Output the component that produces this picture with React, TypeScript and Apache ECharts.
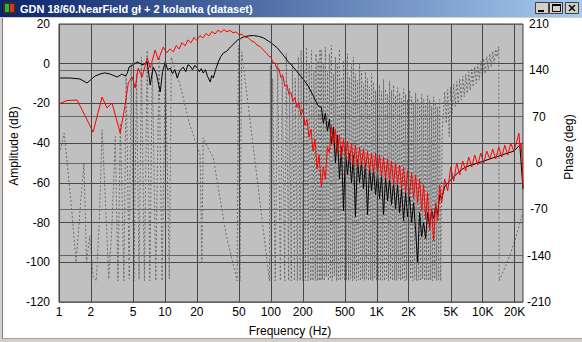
import { useEffect, useRef } from "react";
import * as echarts from "echarts";

const TITLE = "GDN 18/60.NearField gł + 2 kolanka (dataset)";
const X_TICKS = [1, 2, 5, 10, 20, 50, 100, 200, 500, 1000, 2000, 5000, 10000, 20000];
const X_LABELS = ["1", "2", "5", "10", "20", "50", "100", "200", "500", "1K", "2K", "5K", "10K", "20K"];

// black amplitude curve, 1 Hz .. 300 Hz  [Hz, dB]
const BLACK_LF = [
  [1, -7.2], [1.27, -7.2], [1.58, -7.7], [1.84, -9.7], [2.0, -8], [2.19, -6.2], [2.44, -5.2], [2.7, -4.6],
  [3.04, -5.2], [3.3, -6], [3.54, -6.7], [3.94, -5.2], [4.21, -6.2], [4.4, -5], [4.59, -1.7], [5.0, -0.6],
  [5.47, 0.9], [5.8, 0.2], [6.23, -0.6], [6.8, 0.9], [7.26, -10.7], [7.75, -1.7], [8.3, -5], [9.03, -14.2],
  [9.5, -4], [10.07, 0.9], [10.6, -3], [11.2, -2.2], [11.8, -5], [12.4, -3], [13.07, -7.2], [13.8, -3.5],
  [14.9, -1.7], [15.7, -4], [16.5, -0.5], [17.3, -1.2], [18.2, -3], [19.2, -0.8], [20.2, -2.2], [21.1, -4],
  [22, -2.5], [23, -4.7], [24.1, -3], [25.3, -6.5], [26.8, -9.2], [27.6, -6], [28.6, -7.2], [30.1, -3],
  [31.9, 0.9], [33.6, 3.5], [35.6, 5.4], [38.3, 6.3], [41.5, 8.4], [44.7, 10], [48.3, 11.9], [51.6, 12.6],
  [55.1, 13.5], [61, 14], [68.4, 14.2], [76, 13.8], [85.1, 13], [100, 10.6], [115, 8], [130, 4.5],
  [145, 1.2], [163, -1.7], [190, -6], [222, -10.7], [248, -15.5], [276, -20.8],
];

// shared frequency steps of the noisy region, 300 Hz .. 4.1 kHz
const FREQ_HF = [
  300, 313, 327, 342, 357, 373, 390, 407, 425, 444,
  464, 485, 506, 529, 552, 577, 602, 629, 657, 687,
  717, 749, 782, 817, 854, 892, 931, 973, 1016, 1061,
  1109, 1158, 1210, 1263, 1320, 1378, 1440, 1504, 1571, 1641,
  1714, 1790, 1870, 1953, 2040, 2131, 2226, 2325, 2429, 2537,
  2650, 2768, 2891, 3020, 3154, 3295, 3441, 3595, 3755, 3922,
  4097,
];
const BLACK_HF = [
  -22, -30, -25, -34, -28, -40, -32, -50, -36, -58,
  -42, -74, -44, -56, -45, -60, -46, -77, -48, -60,
  -49, -63, -50, -76, -52, -64, -53, -66, -55, -68,
  -56, -76, -57, -69, -58, -71, -60, -73, -61, -75,
  -63, -79, -65, -77, -67, -80, -70, -84, -100, -75,
  -87, -80, -88, -75, -82, -74, -78, -72, -76, -66,
  -68,
];
const RED_HF = [
  -62, -52, -58, -42, -45, -31, -41, -33, -45, -36,
  -47, -38, -48, -39, -50, -40, -51, -41, -52, -42,
  -51, -43, -53, -44, -54, -45, -55, -45, -56, -46,
  -57, -47, -58, -48, -59, -49, -61, -50, -61, -51,
  -63, -52, -65, -54, -66, -55, -68, -56, -70, -58,
  -74, -61, -78, -65, -84, -73, -89, -70, -79, -61,
  -70,
];
const BLACK_TAIL = [
  [4374, -62], [4669, -60], [5321, -57], [6063, -54], [6910, -52], [7874, -51], [8973, -50],
  [10226, -49], [11653, -48], [13280, -47], [15134, -46], [17247, -45], [19654, -44], [22398, -41], [24000, -63],
];

// red amplitude curve, 1 Hz .. 300 Hz
const RED_LF = [
  [1, -20.3], [1.19, -18.5], [1.48, -18.3], [1.69, -24.3], [2.1, -34.4], [2.55, -16.8], [2.84, -22.3],
  [3.17, -19.8], [3.78, -34.9], [4.21, -20.8], [4.51, -9.7], [4.9, -6.7], [5.24, -12.2], [5.59, -2.2],
  [6.09, -6.7], [6.8, 2.9], [7.26, -2.2], [8.09, 6.9], [8.66, 1.9], [9.64, 8.4], [10.4, 5.5], [11.2, 7.5],
  [12.0, 5.9], [12.8, 9.2], [13.6, 7.4], [14.5, 10.6], [15.5, 9.0], [16.5, 12.0], [17.6, 10.5], [18.8, 13.2],
  [20.0, 11.8], [21.4, 14.2], [22.8, 13.0], [24.4, 15.2], [26.0, 14.0], [27.8, 16.2], [29.7, 15.0],
  [31.7, 16.9], [33.8, 15.8], [36.1, 17.1], [38.5, 16.1], [41.1, 16.8], [43.9, 15.6], [46.9, 16.0],
  [50.0, 14.7], [53.4, 14.8], [57.0, 13.4], [60.9, 13.2], [65.0, 11.6], [69.4, 11.0], [74.1, 9.4],
  [79.1, 8.6], [84.5, 7.0], [90.2, 5.6], [96.3, 3.6],
  [100, 3.5], [104.5, 0.5], [109.1, 0.5], [114, -2.5], [119.1, -2.5], [124.4, -7], [129.9, -6], [135.7, -11.5],
  [141.8, -10.5], [148.1, -15.5], [154.7, -14.5], [161.6, -19], [168.8, -17], [176.3, -22], [184.1, -19.5],
  [192.3, -26], [200.9, -23], [209.9, -31], [219.2, -28], [229, -37], [239.2, -33], [249.8, -44],
  [261, -38], [272.6, -53], [284.7, -46],
];
const RED_TAIL = [
  [4374, -58], [4669, -64], [4984, -52], [5321, -59], [5680, -50], [6063, -56], [6473, -49], [6910, -54],
  [7376, -47], [7874, -52], [8406, -46], [8973, -51], [9579, -45], [10226, -50], [10916, -44], [11653, -48],
  [12440, -43], [13280, -48], [14177, -42], [15134, -47], [16156, -41], [17247, -46], [18411, -40],
  [19654, -44], [20981, -39], [22000, -35], [22398, -42], [23000, -40], [23500, -47], [24000, -62],
];

// phase (deg), wrapped
const PHASE_LF = [
  [1.03, 20], [1.12, 45], [1.3, -60], [1.45, -150], [1.6, -60], [1.72, 0], [1.82, -150], [1.95, -110],
  [2.1, -172], [2.25, -178], [2.4, -90], [2.55, 50], [2.75, -60], [2.95, -175], [3.15, -100], [3.4, 40],
  [3.6, -178], [3.8, 60], [4.1, -178], [4.3, 135], [4.6, -175], [4.8, 150], [5.1, -178], [5.4, 135],
  [5.7, -176], [6.0, 160], [6.4, -178], [6.8, 170], [7.2, -178], [7.6, 150], [8.2, -178], [8.8, 160],
  [9.4, -178], [10.1, 155], [11, -175], [11.5, 160], [12.5, 140], [13.9, 118], [17, 60], [21.5, 12],
  [22.3, -150], [23, 38], [26, 20], [28.6, 8], [38, -110], [48, -178], [49.5, 178], [51, -178],
  [53, 168], [70, 10], [97, -178], [99, 148], [101, -178], [104, 128], [110, -178], [116, 150],
  [123, -178], [128, 135], [135, -178], [140, 165], [147, -178], [150, 113], [156, -178], [160, 150],
  [167, -178], [170, 128], [178, -178], [182, 160], [189, -178], [193, 170], [200, -178], [205, 140],
  [212, -178], [217, 175], [225, -178], [230, 150], [238, -178], [242, 170], [250, -178], [255, 140],
  [263, -178], [267, 165], [275, -178], [280, 155], [287, -178], [291, 172], [297, -178],
];
const PHASE_DENSE = [
  [300, 170], [307, -176], [313, 150], [320, -178], [327, 175], [334, -172], [342, 140], [350, -178],
  [357, 165], [365, -175], [373, 178], [381, -178], [390, 135], [398, -170], [407, 160], [416, -178],
  [425, 150], [434, -176], [444, 172], [454, -178], [464, 128], [474, -174], [485, 155], [496, -178],
  [506, 145], [517, -177], [529, 165], [541, -178], [552, 130], [564, -175], [577, 150], [590, -178],
  [602, 160], [615, -176], [629, 135], [643, -178], [657, 125], [672, -177], [687, 150], [702, -178],
  [717, 140], [733, -175], [749, 120], [765, -178], [782, 138], [799, -176], [817, 128], [835, -178],
  [854, 115], [873, -177], [892, 135], [912, -178], [931, 122], [952, -175], [973, 110], [994, -178],
  [1016, 130], [1038, -176], [1061, 118], [1084, -178], [1109, 108], [1133, -177], [1158, 126], [1183, -178],
  [1210, 112], [1237, -175], [1263, 104], [1291, -178], [1320, 124], [1349, -176], [1378, 110], [1408, -178],
  [1440, 118], [1472, -177], [1504, 102], [1537, -178], [1571, 114], [1606, -175], [1641, 106], [1677, -178],
  [1714, 98], [1752, -176], [1790, 112], [1829, -178], [1870, 104], [1911, -177], [1953, 96], [1996, -178],
  [2040, 110], [2085, -175], [2131, 100], [2178, -178], [2226, 92], [2275, -176], [2325, 106], [2376, -178],
  [2429, 98], [2482, -177], [2537, 90], [2593, -178], [2650, 104], [2708, -175], [2768, 96], [2829, -178],
  [2891, 88], [2955, -176], [3020, 102], [3086, -178], [3154, 95], [3223, -177], [3295, 86], [3368, -178],
  [3441, 100], [3517, -175], [3595, 92], [3674, -178], [3755, 85], [3838, -176], [3922, 96], [4008, -178],
];
const PHASE_HF = [
  [4150, 50], [4374, 108], [4520, 60], [4669, 111], [4820, 40], [4984, 115], [5150, 75], [5321, 119],
  [5500, 85], [5680, 123], [5870, 90], [6063, 127], [6270, 95], [6473, 131], [6690, 100], [6910, 134],
  [7140, 105], [7376, 138], [7620, 110], [7874, 142], [8140, 115], [8406, 146], [8690, 120], [8973, 150],
  [9270, 125], [9579, 154], [9900, 130], [10226, 158], [10570, 135], [10916, 161], [11280, 140],
  [11653, 165], [12040, 145], [12440, 169], [12850, 150], [13280, 172], [13700, 160], [14177, 176],
  [14300, -178], [16000, -160], [18000, -140], [20000, -118], [21500, -101], [22500, -90], [24000, -75],
];

const FONT = '"Liberation Sans", Arial, sans-serif';

export default function App() {
  const ref = useRef<HTMLDivElement>(null);
  useEffect(() => {
    const chart = echarts.init(ref.current!, undefined, { renderer: "svg" });
    const black = [...BLACK_LF, ...FREQ_HF.map((f, i) => [f, BLACK_HF[i]]), ...BLACK_TAIL];
    const red = [...RED_LF, ...FREQ_HF.map((f, i) => [f, RED_HF[i]]), ...RED_TAIL];
    const phase = [...PHASE_LF, ...PHASE_DENSE, ...PHASE_HF];

    chart.setOption({
      animation: false,
      backgroundColor: "#ffffff",
      textStyle: { fontFamily: FONT },
      grid: {
        left: 59, right: 59, top: 24, bottom: 40, show: true,
        backgroundColor: "#c0c0c0", borderColor: "#3a3a3a", borderWidth: 1,
      },
      xAxis: {
        type: "log", logBase: 10, min: 1, max: 24000,
        axisLine: { show: false }, axisTick: { show: false }, axisLabel: { show: false },
        splitLine: { show: false },
      },
      yAxis: [
        {
          type: "value", min: -120, max: 20, interval: 20, position: "left",
          axisLine: { show: false }, axisTick: { show: false },
          axisLabel: { color: "#000", fontSize: 12, margin: 9, fontFamily: FONT },
          splitLine: { show: true, lineStyle: { color: "#474747", width: 1 } },
        },
        {
          type: "value", min: -210, max: 210, interval: 70, position: "right",
          axisLine: { show: false }, axisTick: { show: false },
          axisLabel: { color: "#000", fontSize: 12, margin: 16, align: "center", fontFamily: FONT },
          splitLine: { show: true, lineStyle: { color: "#666666", width: 1 } },
        },
      ],
      series: [
        {
          type: "line", name: "grid", data: [], z: 1, silent: true,
          markLine: {
            silent: true, symbol: ["none", "none"], animation: false,
            lineStyle: { color: "#474747", width: 1, type: "solid" },
            emphasis: { disabled: true },
            label: { show: true, position: "start", formatter: "{b}", color: "#000", fontSize: 12, fontFamily: FONT, distance: 4 },
            data: X_TICKS.map((v, i) => ({ xAxis: v, name: X_LABELS[i] })),
          },
        },
        {
          type: "line", name: "Phase", yAxisIndex: 1, data: phase, z: 2, silent: true,
          showSymbol: false, symbol: "none",
          lineStyle: { color: "#6c6c6c", width: 1, type: [2, 2] },
        },
        {
          type: "line", name: "black", data: black, z: 3, silent: true,
          showSymbol: false, symbol: "none",
          lineStyle: { color: "#000000", width: 1 },
        },
        {
          type: "line", name: "red", data: red, z: 4, silent: true,
          showSymbol: false, symbol: "none",
          lineStyle: { color: "#ff0000", width: 1 },
        },
      ],
      graphic: [
        { type: "rect", silent: true, shape: { x: 0, y: 0, width: 582, height: 17 },
          style: { fill: new echarts.graphic.LinearGradient(0, 0, 1, 0, [
            { offset: 0, color: "#0a246a" }, { offset: 1, color: "#a6caf0" }]) } },
        { type: "rect", silent: true, shape: { x: 0, y: 17, width: 582, height: 1 }, style: { fill: "#d4d0c8" } },
        { type: "rect", silent: true, shape: { x: 3, y: 2, width: 13, height: 12 }, style: { fill: "#303030" } },
        { type: "rect", silent: true, shape: { x: 5, y: 4, width: 4, height: 8 }, style: { fill: "#2cb52c" } },
        { type: "rect", silent: true, shape: { x: 10, y: 4, width: 4, height: 8 }, style: { fill: "#e03020" } },
        { type: "text", silent: true, x: 20, y: 9,
          style: { text: TITLE, fill: "#ffffff", font: `bold 11px ${FONT}`, verticalAlign: "middle", align: "left" } },
        { type: "rect", silent: true, shape: { x: 535.5, y: 2.5, width: 13, height: 11 }, style: { fill: "#d4d0c8", stroke: "#404040", lineWidth: 1 } },
        { type: "rect", silent: true, shape: { x: 549.5, y: 2.5, width: 13, height: 11 }, style: { fill: "#d4d0c8", stroke: "#404040", lineWidth: 1 } },
        { type: "rect", silent: true, shape: { x: 565.5, y: 2.5, width: 13, height: 11 }, style: { fill: "#d4d0c8", stroke: "#404040", lineWidth: 1 } },
        { type: "rect", silent: true, shape: { x: 538, y: 10, width: 6, height: 2 }, style: { fill: "#000" } },
        { type: "rect", silent: true, shape: { x: 552.5, y: 4.5, width: 8, height: 7 }, style: { fill: "none", stroke: "#000", lineWidth: 1 } },
        { type: "rect", silent: true, shape: { x: 552, y: 4, width: 9, height: 2 }, style: { fill: "#000" } },
        { type: "line", silent: true, shape: { x1: 569, y1: 5, x2: 575, y2: 11 }, style: { stroke: "#000", lineWidth: 1.5 } },
        { type: "line", silent: true, shape: { x1: 575, y1: 5, x2: 569, y2: 11 }, style: { stroke: "#000", lineWidth: 1.5 } },
        { type: "rect", silent: true, shape: { x: 0, y: 18, width: 2, height: 324 }, style: { fill: "#d4d0c8" } },
        { type: "line", silent: true, shape: { x1: 2.5, y1: 18, x2: 2.5, y2: 338 }, style: { stroke: "#808080", lineWidth: 1 } },
        { type: "rect", silent: true, shape: { x: 0, y: 339, width: 582, height: 3 }, style: { fill: "#d4d0c8" } },
        { type: "line", silent: true, shape: { x1: 2, y1: 338.5, x2: 582, y2: 338.5 }, style: { stroke: "#a0a0a0", lineWidth: 1 } },
        { type: "text", silent: true, x: 14, y: 146, rotation: Math.PI / 2,
          style: { text: "Amplitude (dB)", fill: "#000", font: `12px ${FONT}`, align: "center", verticalAlign: "middle" } },
        { type: "text", silent: true, x: 569, y: 147, rotation: Math.PI / 2,
          style: { text: "Phase (deg)", fill: "#000", font: `12px ${FONT}`, align: "center", verticalAlign: "middle" } },
        { type: "text", silent: true, x: 290, y: 331,
          style: { text: "Frequency (Hz)", fill: "#000", font: `12px ${FONT}`, align: "center", verticalAlign: "middle" } },
      ],
    });
    return () => chart.dispose();
  }, []);
  return <div ref={ref} style={{ position: "fixed", left: 0, top: 0, width: 582, height: 342 }} />;
}
